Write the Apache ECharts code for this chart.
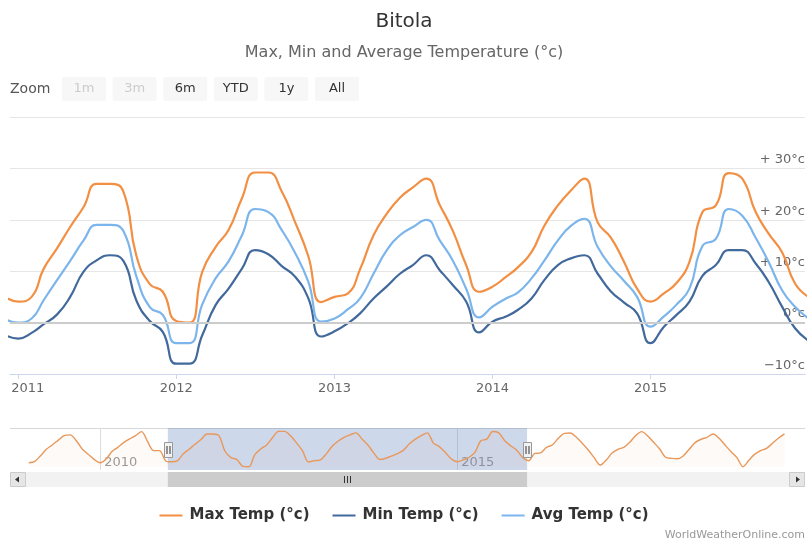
<!DOCTYPE html>
<html><head><meta charset="utf-8">
<script src="https://cdn.jsdelivr.net/npm/echarts@6.0.0/dist/echarts.min.js"></script>
<style>html,body{margin:0;padding:0;background:#fff}#c{width:808px;height:543px}</style>
</head><body><div id="c"></div>
<script>
// ---------------- data ----------------
const months = ['2010-12',
 '2011-01','2011-02','2011-03','2011-04','2011-05','2011-06','2011-07','2011-08','2011-09','2011-10','2011-11','2011-12',
 '2012-01','2012-02','2012-03','2012-04','2012-05','2012-06','2012-07','2012-08','2012-09','2012-10','2012-11','2012-12',
 '2013-01','2013-02','2013-03','2013-04','2013-05','2013-06','2013-07','2013-08','2013-09','2013-10','2013-11','2013-12',
 '2014-01','2014-02','2014-03','2014-04','2014-05','2014-06','2014-07','2014-08','2014-09','2014-10','2014-11','2014-12',
 '2015-01','2015-02','2015-03','2015-04','2015-05','2015-06','2015-07','2015-08','2015-09','2015-10','2015-11','2015-12',
 '2016-01'];
const maxTemp = [5,
 4.1,5,10.5,14.5,18.6,22.5,27,27,25.5,13,7.5,6,
 0.3,0,9.8,14.7,18,24.2,29.2,29.2,25.5,19.7,13,4,
 5,5.7,10.4,17,21.1,24.3,26.3,28,22.9,17.9,11.2,6,
 7,8.9,10.8,13.7,18.9,22.8,25.7,28,19.5,16.6,11.8,6.6,
 4.1,5.7,7.6,11.8,21.5,22.8,29.1,28,21.5,17.3,13.7,7.6,
 5];
const minTemp = [-2.4,
 -3.1,-2,-0.3,1.6,5,9.9,12.1,13.1,12,4.3,0.3,-1.8,
 -8,-8,-2.5,3.4,6.6,10.5,14.1,13.3,11,9,4.8,-2.7,
 -1.7,-0.1,1.8,4.7,7,9.5,11.2,13.1,10.2,7.3,4.1,-1.9,
 0.2,1.2,2.5,4.7,8.3,11.2,12.5,13.1,9.5,6.1,3.9,1.8,
 -4,-0.8,1.4,4.1,9.1,11.2,14.1,14.1,11.5,7.9,3.1,-1.1,
 -3.5];
const avgTemp = [0.7,
 0,0.8,4.4,8.3,12,16,19,19,17.8,9,3,1.5,
 -4,-4,3.5,8.6,11.9,17,22.1,21.5,18,13.7,8,0.2,
 0.8,2.6,4.7,9.5,14,17,18.6,20,16,12.1,6.6,1,
 3.1,4.7,5.9,8.6,12.1,16,18.8,20.2,14.7,11,8.1,5,
 -0.8,1.2,3.4,6.6,14.9,16.3,22.1,20.8,16.5,11.8,6.3,3.1,
 0.8];
// navigator (max temp outside the zoomed window)
const navMonthsBefore = ['2009-01','2009-02','2009-03','2009-04','2009-05','2009-06','2009-07','2009-08','2009-09','2009-10','2009-11','2009-12',
 '2010-01','2010-02','2010-03','2010-04','2010-05','2010-06','2010-07','2010-08','2010-09','2010-10','2010-11'];
const navMaxBefore = [3.3,4.5,8.9,14.4,18,22,25.7,26.3,21.5,14.7,10.3,6.1,
 3.3,6.4,12.4,16,19.9,23,25.7,29,20.7,13.3,13.3];
const navMonthsAfter = ['2016-02','2016-03','2016-04','2016-05','2016-06','2016-07','2016-08','2016-09','2016-10','2016-11','2016-12',
 '2017-01','2017-02','2017-03','2017-04','2017-05','2017-06','2017-07','2017-08','2017-09','2017-10','2017-11','2017-12',
 '2018-01','2018-02','2018-03','2018-04','2018-05','2018-06','2018-07','2018-08','2018-09','2018-10','2018-11','2018-12',
 '2019-01','2019-02','2019-03','2019-04','2019-05','2019-06','2019-07','2019-08'];
const navMaxAfter = [11,11.4,16,18,23.5,27.6,27.9,24.3,19.4,13.8,7.5,
 1.4,5.5,11.1,14.4,16,20.2,25.7,29,25.4,20.2,14.7,7.8,
 6.9,6.6,8.9,14.4,19.9,22.7,24.3,27.1,23.5,18,12.4,7.5,
 0,5.5,10.2,13.3,15.2,19.4,23.5,27.1];

const seriesNames = ['Max Temp (°c)','Min Temp (°c)','Avg Temp (°c)'];
const yearTicks = [2011,2012,2013,2014,2015];
const navYearTicks = [2010,2015];
const windowStart = '2010-12-13', windowEnd = '2015-12-24';
const navStart = '2008-09-27', navEnd = '2019-11-14';
const zoomButtons = ['1m','3m','6m','YTD','1y','All'];
const disabledButtons = ['1m','3m'];

// ---------------- helpers ----------------
const FONT = '"DejaVu Sans", Verdana, sans-serif';
const COLORS = ['#f28f43','#41699c','#7cb5ec'];
function ts(s){const p=s.split('-').map(Number);return Date.UTC(p[0],p[1]-1,p[2]||1);}
function yearOf(v){return new Date(v).getUTCFullYear();}
function pair(ms, vs){return ms.map((m,i)=>[ts(m), vs[i]]);}
const yearTs = yearTicks.map(y=>Date.UTC(y,0,1));
const navYearTs = navYearTicks.map(y=>Date.UTC(y,0,1));
const navData = pair(navMonthsBefore, navMaxBefore).concat(pair(months, maxTemp), pair(navMonthsAfter, navMaxAfter));

function yFmt(v){ if(v>0) return '+ '+v+'°c'; if(v<0) return '\u2212'+(-v)+'°c'; return '0°c'; }

const chart = echarts.init(document.getElementById('c'), null, {renderer:'canvas'});
const mainLine = (name, data, color) => ({
  name, type:'line', xAxisIndex:0, yAxisIndex:0, data, smooth:0.5,
  symbol:'none', showSymbol:false, clip:true, z:3,
  lineStyle:{color, width:2.2}, itemStyle:{color}
});

const option = {
  animation:false,
  textStyle:{fontFamily:FONT},
  title:[
    {text:'Bitola', left:'center', top:7, textStyle:{fontFamily:FONT, fontSize:20, fontWeight:'normal', color:'#333'}},
    {text:'Max, Min and Average Temperature (°c)', left:'center', top:40, textStyle:{fontFamily:FONT, fontSize:16, fontWeight:'normal', color:'#666'}}
  ],
  legend:{data:seriesNames, top:503, left:'center', icon:'rect', itemWidth:23, itemHeight:2, itemGap:23,
    textStyle:{fontFamily:FONT, fontSize:15, fontWeight:'bold', color:'#333', padding:[0,0,0,2]}},
  grid:[
    {left:10, right:3, top:117, height:257},
    {left:10, right:3, top:428, height:42}
  ],
  xAxis:[
    {gridIndex:0, type:'value', min:ts(windowStart), max:ts(windowEnd),
      axisLine:{show:true, onZero:false, lineStyle:{color:'#ccd6eb'}},
      axisTick:{show:true, customValues:yearTs, length:5, lineStyle:{color:'#ccd6eb'}},
      axisLabel:{customValues:yearTs, color:'#666', fontSize:13, fontFamily:FONT, margin:8,
        formatter:(v)=>{const y=yearOf(v); return y===yearTicks[0]?'{first|'+y+'}':String(y);},
        rich:{first:{padding:[0,0,0,19], color:'#666', fontSize:13, fontFamily:FONT}}},
      splitLine:{show:false}},
    {gridIndex:1, type:'value', min:ts(navStart), max:ts(navEnd),
      axisLine:{show:false, onZero:false},
      axisTick:{show:true, inside:true, customValues:navYearTs, length:42, lineStyle:{color:'#dcdcdc'}},
      axisLabel:{customValues:navYearTs, inside:true, align:'left', verticalAlign:'middle', margin:7,
        padding:[0,0,0,4], color:'#999', fontSize:13, fontFamily:FONT,
        formatter:(v)=>String(yearOf(v))},
      splitLine:{show:false}}
  ],
  yAxis:[
    {gridIndex:0, type:'value', position:'right', min:-10, max:40, interval:10,
      axisLine:{show:false}, axisTick:{show:false},
      splitLine:{lineStyle:{color:'#e6e6e6'}},
      axisLabel:{inside:true, margin:0, verticalAlign:'bottom', padding:[0,0,2,0], color:'#666', fontSize:13,
        fontFamily:FONT, showMaxLabel:false, formatter:yFmt}},
    {gridIndex:1, type:'value', min:-2.7, max:32, show:false}
  ],
  series:[
    {name:'zero', type:'line', xAxisIndex:0, yAxisIndex:0, data:[], z:1, silent:true,
      markLine:{symbol:'none', silent:true, label:{show:false}, lineStyle:{color:'#cccccc', width:2, type:'solid'}, data:[{yAxis:0}]}},
    mainLine(seriesNames[0], pair(months, maxTemp), COLORS[0]),
    mainLine(seriesNames[1], pair(months, minTemp), COLORS[1]),
    mainLine(seriesNames[2], pair(months, avgTemp), COLORS[2]),
    {name:'Navigator', type:'line', xAxisIndex:1, yAxisIndex:1, data:navData, smooth:0.3,
      symbol:'none', showSymbol:false, silent:true,
      lineStyle:{color:'#e8985a', width:1.4}, areaStyle:{color:'rgba(242,143,67,0.06)'},
      markArea:{silent:true, itemStyle:{color:'rgba(102,133,194,0.32)'},
        data:[[{xAxis:ts(windowStart)},{xAxis:ts(windowEnd)}]]}}
  ]
};
chart.setOption(option);

// ---------------- navigator / range-selector decorations ----------------
const xs = chart.convertToPixel({xAxisIndex:1}, ts(windowStart));
const xe = chart.convertToPixel({xAxisIndex:1}, ts(windowEnd));
const g = [];
g.push({type:'text', style:{x:10, y:89, text:'Zoom', fill:'#555', font:'14px '+FONT, verticalAlign:'middle'}});
zoomButtons.forEach((b,i)=>{
  const x0 = 62 + i*50.6;
  g.push({type:'rect', shape:{x:x0, y:77, width:44, height:24, r:2}, style:{fill:'#f7f7f7'}});
  g.push({type:'text', style:{x:x0+22, y:89, text:b, align:'center', verticalAlign:'middle',
    fill: disabledButtons.includes(b)?'#cccccc':'#333', font:'13px '+FONT}});
});
g.push({type:'line', shape:{x1:10, y1:428.5, x2:805, y2:428.5}, style:{stroke:'#d8d8d8', lineWidth:1}});
g.push({type:'rect', shape:{x:10, y:472, width:795, height:15}, style:{fill:'#f2f2f2'}});
g.push({type:'rect', shape:{x:xs, y:472, width:xe-xs, height:15}, style:{fill:'#cccccc'}});
const cx = Math.round((xs+xe)/2)+0.5;
[-3,0,3].forEach(d=>g.push({type:'line', shape:{x1:cx+d, y1:476, x2:cx+d, y2:483}, style:{stroke:'#333', lineWidth:1}}));
g.push({type:'rect', shape:{x:10.5, y:472.5, width:15, height:14}, style:{fill:'#e6e6e6', stroke:'#cccccc'}});
g.push({type:'polygon', shape:{points:[[15,479.5],[19,476.5],[19,482.5]]}, style:{fill:'#333'}});
g.push({type:'rect', shape:{x:789.5, y:472.5, width:15, height:14}, style:{fill:'#e6e6e6', stroke:'#cccccc'}});
g.push({type:'polygon', shape:{points:[[800,479.5],[796,476.5],[796,482.5]]}, style:{fill:'#333'}});
[xs, xe].forEach(x=>{
  const hx = Math.round(x)+0.5;
  g.push({type:'rect', z:100, shape:{x:hx-4, y:442.5, width:8, height:15}, style:{fill:'#f2f2f2', stroke:'#999'}});
  g.push({type:'line', z:101, shape:{x1:hx-1.5, y1:446, x2:hx-1.5, y2:454}, style:{stroke:'#333', lineWidth:1}});
  g.push({type:'line', z:101, shape:{x1:hx+1.5, y1:446, x2:hx+1.5, y2:454}, style:{stroke:'#333', lineWidth:1}});
});
g.push({type:'text', style:{x:805, y:535, text:'WorldWeatherOnline.com', align:'right', verticalAlign:'middle', fill:'#999', font:'11px '+FONT}});
chart.setOption({graphic:g});
</script>
</body></html>
